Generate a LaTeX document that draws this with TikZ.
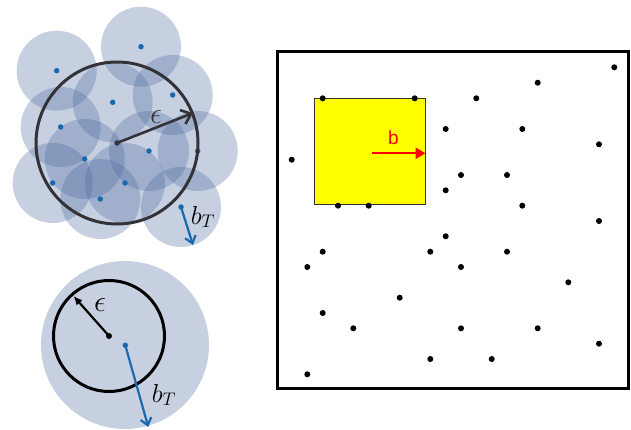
\RequirePackage{fix-cm}
\documentclass[tikz,border=0pt]{standalone}
\usepackage{fontspec}
\newfontfamily\arialfont{Liberation Sans}
\usetikzlibrary{arrows.meta}
\definecolor{cfill}{RGB}{70,100,155}
\definecolor{dotblue}{RGB}{25,105,175}
\definecolor{ringgray}{RGB}{50,50,55}
\definecolor{byellow}{RGB}{255,255,0}
\tikzset{
  softdisk/.style={fill=cfill,fill opacity=0.30,draw=none},
  bdot/.style={circle,fill=dotblue,inner sep=0pt,minimum size=5.5pt},
  kdot/.style={circle,fill=black,inner sep=0pt,minimum size=6pt},
  mlabel/.style={font=\fontsize{26}{30}\selectfont,inner sep=0pt},
  elabel/.style={font=\fontsize{30}{34}\selectfont,inner sep=0pt},
  btarrow/.style={draw=dotblue,line width=2.2pt,-{Straight Barb[length=7pt,width=11pt,line width=2.2pt]}},
}
\begin{document}
\begin{tikzpicture}[x=1pt,y=-1pt]
\useasboundingbox (0,0) rectangle (631,430);
% ---------- top-left: covering ----------
\foreach \x/\y in {141/46.7,56.7/70.7,172.7/95,112.7/102.3,60.7/127,149/151,197.7/151,84.7/159,52.7/183,125/183,100.3/199,181/207}
  \fill[softdisk] (\x,\y) circle (40);
\foreach \x/\y/\n in {141/46.7/a,56.7/70.7/b,172.7/95/c,112.7/102.3/d,60.7/127/e,149/151/f,197.7/151/g,84.7/159/h,52.7/183/i,125/183/j,100.3/199/k,181/207/l}
  \node[bdot] (p\n) at (\x,\y) {};
\draw[ringgray,line width=3pt] (117,143) circle (81);
\node[circle,fill=ringgray,inner sep=0pt,minimum size=5.5pt] (c1) at (117,143) {};
\coordinate (e1) at (193,113);
\draw[ringgray,line width=2.6pt,-{Straight Barb[length=9pt,width=15pt,line width=2.6pt]}] (c1.center) -- (e1);
\node[elabel,text=ringgray] (eps1) at (156,117) {$\epsilon$};
\coordinate (bt1) at (193,245);
\draw[btarrow] (pl.center) -- (bt1);
\node[mlabel] (lbt1) at (203,217) {$b_T$};
% ---------- bottom-left ----------
\fill[cfill,fill opacity=0.30] (125,345) circle (84);
\draw[black,line width=3pt] (109,336) circle (55.5);
\node[kdot] (c2) at (109,336) {};
\coordinate (e2) at (73.5,296);
\draw[black,line width=2.2pt,-{Latex[length=9pt,width=8pt]}] (c2.center) -- (e2);
\node[elabel] (eps2) at (100,305) {$\epsilon$};
\node[bdot] (q) at (125.3,345.3) {};
\coordinate (bt2) at (148.3,427);
\draw[btarrow] (q.center) -- (bt2);
\node[mlabel] (lbt2) at (164,395) {$b_T$};
% ---------- right panel ----------
\draw[line width=3pt,fill=white] (277,52) rectangle (628,388);
\draw[fill=byellow,line width=1pt,draw=black!80] (314.5,99) rectangle (425,205);
\foreach \x/\y [count=\i] in {614.3/67.3,537.7/82.7,476.3/98.3,322.7/98.3,414.7/98.3,445.7/129,522.3/129,599/144.3,291.7/159.7,461/175,507/175,445.7/190.3,338/205.7,368.7/205.7,522.3/205.7,599/221,445.7/236.3,322.7/251.7,430.3/251.7,507/251.7,307.3/267,461/267,568.3/282.3,399.7/297.7,322.7/313,353.3/328.3,461/328.3,537.7/328.3,599/343.7,430.3/359,491.7/359,307.3/374.3}
  \node[kdot] (r\i) at (\x,\y) {};
\coordinate (ba) at (371.5,153.3);
\coordinate (bb) at (425.5,153.3);
\draw[red,line width=2.4pt,-{Triangle[length=10pt,width=11pt]}] (ba) -- (bb);
\node[text=red,font=\arialfont\fontsize{19}{21}\selectfont,inner sep=0pt] (blab) at (393.5,137.5) {b};
\end{tikzpicture}
\end{document}
